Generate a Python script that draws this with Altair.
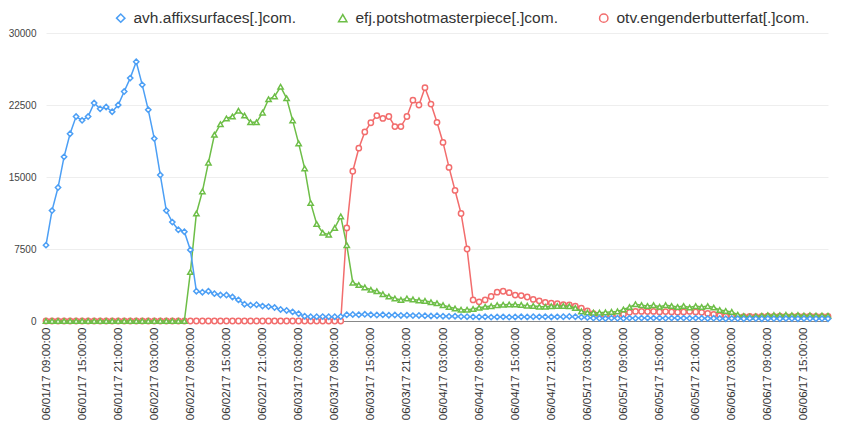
import altair as alt
import pandas as pd

# Hourly categories: 06/01/17 09:00:00 ... 06/06/17 19:00:00 (131 points)
times = pd.date_range("2017-06-01 09:00", periods=131, freq="h").strftime("%m/%d/%y %H:%M:%S").tolist()
TICKS = times[::6]

SERIES = ["avh.affixsurfaces[.]com.", "efj.potshotmasterpiece[.]com.", "otv.engenderbutterfat[.]com."]
COLORS = ["#4C9FF5", "#6DBE47", "#F26D6D"]
SHAPES = ["diamond", "triangle-up", "circle"]
Y_TICKS = [0, 7500, 15000, 22500, 30000]

avh = [7900, 11500, 13900, 17100, 19500, 21300, 20900, 21300, 22700, 22100,
       22300, 21800, 22500, 23900, 25300, 27000, 24600, 22000, 19000, 15200,
       11500, 10300, 9500, 9300, 7400, 3100, 3000, 3100, 2850, 2700,
       2700, 2500, 2200, 1750, 1650, 1700, 1550, 1500, 1400, 1200,
       1100, 950, 750, 500, 450, 450, 460, 450, 450, 460,
       650, 680, 650, 700, 650, 620, 650, 600, 620, 580,
       600, 560, 580, 540, 520, 540, 500, 480, 500, 460,
       450, 430, 420, 440, 400, 420, 430, 400, 420, 440,
       420, 450, 430, 440, 420, 430, 450, 470, 440, 400,
       350, 300, 280, 260, 300, 280, 260, 300, 280, 300,
       320, 300, 320, 280, 300, 320, 300, 280, 300, 280,
       260, 280, 260, 240, 260, 250, 240, 260, 250, 240,
       260, 250, 240, 260, 250, 240, 260, 250, 240, 250, 240]

efj = [0] * 24 + [
       5100, 11200, 13500, 16500, 19400, 20500,
       21100, 21300, 21900, 21400, 20700, 20700, 21700, 23100, 23400, 24400,
       23200, 20900, 18500, 15900, 12300, 10100, 9200, 9000, 9700, 10900,
       7900, 4000, 3750, 3500, 3250, 3100, 2800, 2550, 2350, 2200,
       2350, 2250, 2150, 2100, 1950, 1850, 1650, 1450, 1300, 1180,
       1180, 1250, 1380, 1480, 1550, 1650, 1700, 1720, 1720, 1680,
       1600, 1560, 1500, 1480, 1540, 1560, 1560, 1540, 1350, 1000,
       880, 870, 870, 900, 950, 1000, 1200, 1450, 1750, 1650,
       1560, 1650, 1480, 1650, 1560, 1460, 1560, 1400, 1550, 1460,
       1550, 1400, 1150, 1050, 950, 650, 520, 450, 500, 550,
       600, 620, 600, 640, 600, 620, 580, 600, 560, 580, 550]

otv = [0] * 50 + [
       9700, 15600, 18000, 19700, 20650, 21400, 21100, 21300, 20250, 20250,
       21300, 23000, 22500, 24300, 22600, 20700, 18600, 16000, 13600, 11200,
       7500, 2200, 2000, 2200, 2550, 3000, 3100, 2950, 2700, 2650,
       2500, 2250, 2100, 1950, 1870, 1800, 1700, 1670, 1560, 1350,
       1050, 760, 600, 600, 620, 650, 700, 900, 1000, 1000,
       980, 1000, 950, 980, 950, 920, 950, 1000, 950, 900,
       780, 700, 560, 480, 450, 420, 450, 480, 460, 480,
       500, 480, 500, 470, 490, 500, 480, 500, 470, 490, 480]

rows = []
for name, vals in zip(SERIES, [avh, efj, otv]):
    for t, v in zip(times, vals):
        rows.append({"time": t, "series": name, "value": v})
df = pd.DataFrame(rows)

FONT = "Liberation Sans"

x_enc = alt.X(
    "time:O", sort=times,
    scale=alt.Scale(type="point", padding=0),
    axis=alt.Axis(values=TICKS, labelAngle=270, title=None, labelFontSize=11.5,
                  labelColor="#333333", domainColor="#888888", ticks=False,
                  labelPadding=6, grid=False, labelFont=FONT),
)
y_enc = alt.Y(
    "value:Q",
    scale=alt.Scale(domain=[0, 30000]),
    axis=alt.Axis(values=Y_TICKS, format="d", title=None, domain=False, ticks=False,
                  labelFontSize=10, labelColor="#444444", gridColor="#eeeeee",
                  labelPadding=10, labelFont=FONT),
)
color_enc = alt.Color(
    "series:N", scale=alt.Scale(domain=SERIES, range=COLORS),
    legend=alt.Legend(title=None, orient="none", direction="horizontal",
                      legendX=67, legendY=-23, labelFontSize=15.5, labelFont=FONT,
                      labelColor="#333333", columnPadding=38, symbolSize=70,
                      symbolStrokeWidth=1.5, labelLimit=0, labelOffset=5,
                      labelBaseline="middle"),
)
shape_enc = alt.Shape("series:N", scale=alt.Scale(domain=SERIES, range=SHAPES), legend=None)

layers = []
for name in [SERIES[2], SERIES[1], SERIES[0]]:
    layers.append(
        alt.Chart(df)
        .transform_filter(alt.datum.series == name)
        .mark_line(strokeWidth=1.5,
                   point=alt.OverlayMarkDef(filled=False, fill="white", size=28, strokeWidth=1.5))
        .encode(x=x_enc, y=y_enc, color=color_enc, shape=shape_enc)
    )

chart = (
    alt.layer(*layers)
    .properties(width=782, height=288, padding={"top": 2, "left": 0, "right": 0, "bottom": 0})
    .configure_view(stroke=None)
)

chart.save("out.html", embed_options={"renderer": "svg", "actions": False})
